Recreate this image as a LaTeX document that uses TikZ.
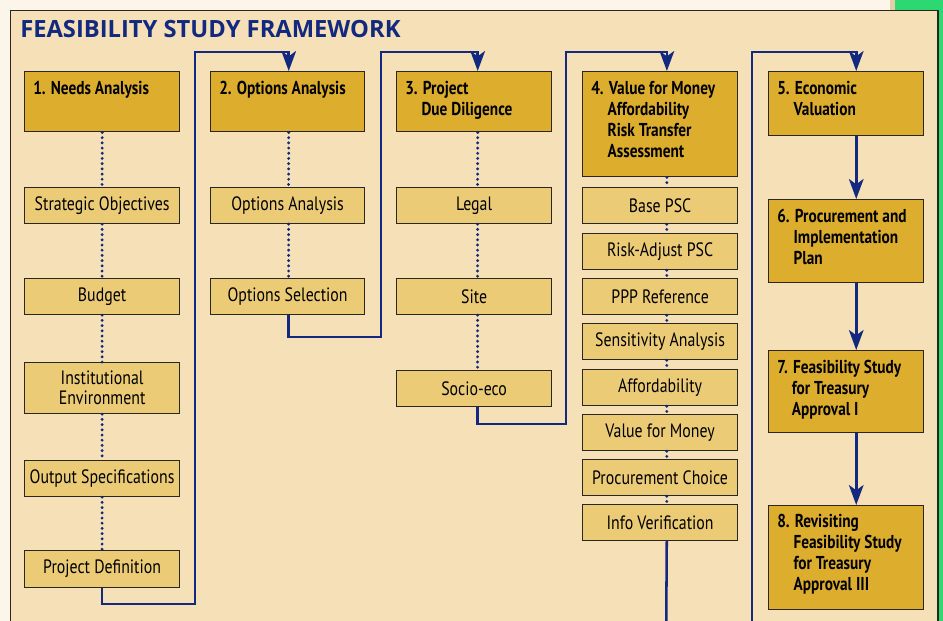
\documentclass[tikz,border=0pt]{standalone}
\usepackage{fontspec}
\setmainfont{PT Sans}
\newfontfamily\boxfont{PT Sans}[FakeStretch=0.82]
\newfontfamily\headfont{PT Sans Bold}[FakeStretch=0.82]
\newfontfamily\titlefont{Open Sans}
\usetikzlibrary{arrows.meta}
\definecolor{bgcream}{HTML}{FCF6EA}
\definecolor{framefill}{HTML}{F5E0B7}
\definecolor{gold}{HTML}{DDAE2D}
\definecolor{lightgold}{HTML}{ECCB77}
\definecolor{navy}{HTML}{13297F}
\definecolor{greenstrip}{HTML}{2BD872}
\definecolor{tanstrip}{HTML}{E2CFA6}
\definecolor{edge}{HTML}{2B2620}
\tikzset{
  hbox/.style={draw=edge, line width=1.1pt, fill=gold, inner sep=0pt, anchor=north west},
  sbox/.style={draw=edge, line width=0.9pt, fill=lightgold, inner sep=0pt, anchor=north west,
     font=\boxfont\fontsize{14.5}{16}\selectfont, align=center},
  htext/.style={anchor=north west, inner sep=0pt, align=left,
     font=\headfont\fontsize{14}{15.8}\selectfont},
  flow/.style={draw=navy, line width=1.9pt},
  flowarrow/.style={flow, -{Stealth[length=15pt, width=11pt, inset=4pt]}},
  dots/.style={draw=navy, line width=2.4pt, line cap=round, dash pattern=on 0pt off 3.9pt},
}
\begin{document}
\begin{tikzpicture}[x=0.75pt, y=-0.75pt]
\useasboundingbox (0,0) rectangle (943,621);
% backgrounds
\fill[bgcream] (0,0) rectangle (943,621);
\fill[greenstrip] (895,0) rectangle (943,621);
\fill[tanstrip] (890,0) rectangle (895,10);
\draw[edge, line width=1pt, fill=framefill] (10.5,10.5) rectangle (938,630);
\node[anchor=west, inner sep=0pt, text=navy, font=\titlefont\bfseries\fontsize{17.8}{19}\selectfont] (title) at (20,29) {FEASIBILITY STUDY FRAMEWORK};

% column 1
\node[hbox, minimum width=116.25pt, minimum height=45pt] (h1) at (24,71) {};
\node[htext] (t1) at (33,81) {1. Needs Analysis};
\node[sbox, minimum width=116.25pt, minimum height=27pt] (s11) at (24,187) {Strategic Objectives};
\node[sbox, minimum width=116.25pt, minimum height=27pt] (s12) at (24,278) {Budget};
\node[sbox, minimum width=116.25pt, minimum height=38.25pt] (s13) at (24,362) {Institutional\\[-1pt]Environment};
\node[sbox, minimum width=116.25pt, minimum height=27pt] (s14) at (24,460) {Output Specifications};
\node[sbox, minimum width=116.25pt, minimum height=27.75pt] (s15) at (24,550) {Project Definition};

% column 2
\node[hbox, minimum width=115.5pt, minimum height=45pt] (h2) at (210,71) {};
\node[htext] (t2) at (219,81) {2. Options Analysis};
\node[sbox, minimum width=115.5pt, minimum height=27pt] (s21) at (210,187) {Options Analysis};
\node[sbox, minimum width=115.5pt, minimum height=27pt] (s22) at (210,278) {Options Selection};

% column 3
\node[hbox, minimum width=116.25pt, minimum height=45pt] (h3) at (396,71) {};
\node[htext] (t3) at (405,81) {3. Project\\\hphantom{3.\ }Due Diligence};
\node[sbox, minimum width=116.25pt, minimum height=27pt] (s31) at (396,187) {Legal};
\node[sbox, minimum width=116.25pt, minimum height=27pt] (s32) at (396,278) {Site};
\node[sbox, minimum width=116.25pt, minimum height=27pt] (s33) at (396,370) {Socio-eco};

% column 4
\node[hbox, minimum width=116.25pt, minimum height=78.75pt] (h4) at (582,71) {};
\node[htext] (t4) at (591,81) {4. Value for Money\\\hphantom{4.\ }Affordability\\\hphantom{4.\ }Risk Transfer\\\hphantom{4.\ }Assessment};
\node[sbox, minimum width=116.25pt, minimum height=27pt] (s41) at (582,187) {Base PSC};
\node[sbox, minimum width=116.25pt, minimum height=27pt] (s42) at (582,233) {Risk-Adjust PSC};
\node[sbox, minimum width=116.25pt, minimum height=27pt] (s43) at (582,278) {PPP Reference};
\node[sbox, minimum width=116.25pt, minimum height=27pt] (s44) at (582,323) {Sensitivity Analysis};
\node[sbox, minimum width=116.25pt, minimum height=27pt] (s45) at (582,369) {Affordability};
\node[sbox, minimum width=116.25pt, minimum height=27pt] (s46) at (582,414) {Value for Money};
\node[sbox, minimum width=116.25pt, minimum height=27pt] (s47) at (582,459) {Procurement Choice};
\node[sbox, minimum width=116.25pt, minimum height=27pt] (s48) at (582,504) {Info Verification};

% column 5
\node[hbox, minimum width=116.25pt, minimum height=48pt] (h5) at (768,71) {};
\node[htext] (t5) at (777,81) {5. Economic\\\hphantom{5.\ }Valuation};
\node[hbox, minimum width=116.25pt, minimum height=62.25pt] (h6) at (768,199) {};
\node[htext] (t6) at (777,209) {6. Procurement and\\\hphantom{6.\ }Implementation\\\hphantom{6.\ }Plan};
\node[hbox, minimum width=116.25pt, minimum height=61.5pt] (h7) at (768,350) {};
\node[htext] (t7) at (777,360) {7. Feasibility Study\\\hphantom{7.\ }for Treasury\\\hphantom{7.\ }Approval I};
\node[hbox, minimum width=116.25pt, minimum height=78pt] (h8) at (768,505) {};
\node[htext] (t8) at (777,514) {8. Revisiting\\\hphantom{8.\ }Feasibility Study\\\hphantom{8.\ }for Treasury\\\hphantom{8.\ }Approval III};

% dotted links
\draw[dots] (h1.south) -- (s11.north);
\draw[dots] (s11.south) -- (s12.north);
\draw[dots] (s12.south) -- (s13.north);
\draw[dots] (s13.south) -- (s14.north);
\draw[dots] (s14.south) -- (s15.north);
\draw[dots] ([xshift=0.75pt]h2.south) -- ([xshift=0.75pt]s21.north);
\draw[dots] ([xshift=0.75pt]s21.south) -- ([xshift=0.75pt]s22.north);
\draw[dots] ([xshift=2.6pt]h3.south) -- ([xshift=2.6pt]s31.north);
\draw[dots] ([xshift=2.6pt]s31.south) -- ([xshift=2.6pt]s32.north);
\draw[dots] ([xshift=2.6pt]s32.south) -- ([xshift=2.6pt]s33.north);
\draw[dots] ([xshift=5pt]h4.south) -- ([xshift=5pt]s41.north);
\draw[dots] ([xshift=5pt]s41.south) -- ([xshift=5pt]s42.north);
\draw[dots] ([xshift=5pt]s42.south) -- ([xshift=5pt]s43.north);
\draw[dots] ([xshift=5pt]s43.south) -- ([xshift=5pt]s44.north);
\draw[dots] ([xshift=5pt]s44.south) -- ([xshift=5pt]s45.north);
\draw[dots] ([xshift=5pt]s45.south) -- ([xshift=5pt]s46.north);
\draw[dots] ([xshift=5pt]s46.south) -- ([xshift=5pt]s47.north);
\draw[dots] ([xshift=5pt]s47.south) -- ([xshift=5pt]s48.north);

% flow connectors
\coordinate (j1) at (195,604);
\coordinate (k1) at (195,52);
\coordinate (j2) at (381,337);
\coordinate (k2) at (381,52);
\coordinate (j3) at (566,424);
\coordinate (k3) at (566,52);
\coordinate (e4) at (666.2,630);
\coordinate (b5) at (752,630);
\coordinate (k5) at (752,52);
\draw[flowarrow] (s15.south) |- (j1) -- (k1) -| ([xshift=0.75pt]h2.north);
\draw[flowarrow] ([xshift=0.75pt]s22.south) |- (j2) -- (k2) -| ([xshift=2.6pt]h3.north);
\draw[flowarrow] ([xshift=2.6pt]s33.south) |- (j3) -- (k3) -| ([xshift=5pt]h4.north);
\draw[flow] ([xshift=5pt]s48.south) -- (e4);
\draw[flowarrow] (b5) -- (k5) -| ([xshift=7.5pt]h5.north);
\draw[flowarrow] ([xshift=7.5pt]h5.south) -- ([xshift=7.5pt]h6.north);
\draw[flowarrow] ([xshift=7.5pt]h6.south) -- ([xshift=7.5pt]h7.north);
\draw[flowarrow] ([xshift=7.5pt]h7.south) -- ([xshift=7.5pt]h8.north);
\end{tikzpicture}
\end{document}
